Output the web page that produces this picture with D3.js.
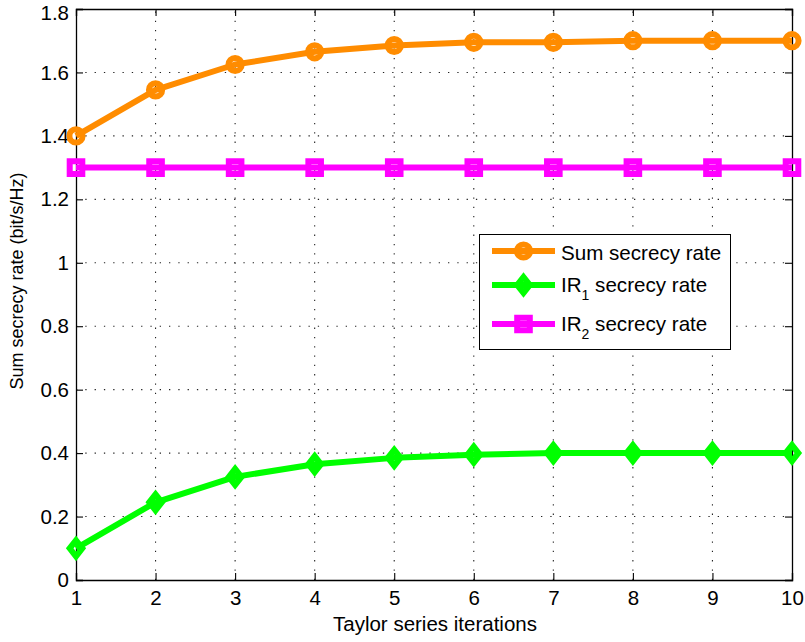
<!DOCTYPE html>
<html>
<head>
<meta charset="utf-8">
<script src="https://cdn.jsdelivr.net/npm/d3@7"></script>
<style>
  body { margin: 0; background: #fff; }
  text { font-family: "Liberation Sans", Arial, Helvetica, sans-serif; fill: #000; }
</style>
</head>
<body>
<svg id="chart" width="805" height="642"></svg>
<script>
// Secrecy rate versus number of Taylor series iterations
const iterations = [1, 2, 3, 4, 5, 6, 7, 8, 9, 10];
const sumRate = [1.40, 1.545, 1.625, 1.665, 1.685, 1.695, 1.695, 1.70, 1.70, 1.70];
const ir1Rate = [0.10, 0.245, 0.325, 0.365, 0.385, 0.395, 0.40, 0.40, 0.40, 0.40];
const ir2Rate = [1.30, 1.30, 1.30, 1.30, 1.30, 1.30, 1.30, 1.30, 1.30, 1.30];

const xTicks = [1, 2, 3, 4, 5, 6, 7, 8, 9, 10];
const yTicks = [0, 0.2, 0.4, 0.6, 0.8, 1, 1.2, 1.4, 1.6, 1.8];
const yTickLabels = ["0", "0.2", "0.4", "0.6", "0.8", "1", "1.2", "1.4", "1.6", "1.8"];

const seriesNames = ["Sum secrecy rate", "IR1 secrecy rate", "IR2 secrecy rate"];
const seriesValues = [sumRate, ir1Rate, ir2Rate];
const seriesColors = ["#FF8C00", "#00FF00", "#FF00FF"];
const seriesMarkers = ["circle", "diamond", "square"];

const svg = d3.select("#chart");
const plotL = 76, plotR = 792, plotT = 9, plotB = 580;

const x = d3.scaleLinear().domain([1, 10]).range([plotL, plotR]);
const y = d3.scaleLinear().domain([0, 1.8]).range([plotB, plotT]);

// dotted grid
const grid = svg.append("g")
  .attr("stroke", "#222").attr("stroke-width", 1.1)
  .attr("stroke-dasharray", "1.3,8");
grid.selectAll("line.gx").data(xTicks.slice(1, -1)).join("line")
  .attr("x1", d => x(d)).attr("x2", d => x(d))
  .attr("y1", plotB).attr("y2", plotT);
grid.selectAll("line.gy").data(yTicks.slice(1, -1)).join("line")
  .attr("y1", d => y(d)).attr("y2", d => y(d))
  .attr("x1", plotL).attr("x2", plotR);

// axes with inward ticks on all four sides
const tickLen = 7;
const axes = svg.append("g");
const fontTick = "20.5px";

axes.append("g").attr("transform", `translate(0,${plotB})`)
  .call(d3.axisBottom(x).tickValues(xTicks).tickSize(-tickLen).tickPadding(10)
    .tickFormat(d3.format("d")))
  .call(g => g.selectAll("text").attr("font-size", fontTick).attr("dy", "0.72em"));
axes.append("g").attr("transform", `translate(0,${plotT})`)
  .call(d3.axisTop(x).tickValues(xTicks).tickSize(-tickLen).tickFormat(""));
axes.append("g").attr("transform", `translate(${plotL},0)`)
  .call(d3.axisLeft(y).tickValues(yTicks).tickSize(-tickLen).tickPadding(7)
    .tickFormat((d, i) => yTickLabels[i]))
  .call(g => g.selectAll("text").attr("font-size", fontTick)
    // keep the topmost label inside the page
    .attr("dy", d => d === 1.8 ? "0.5em" : "0.32em"));
axes.append("g").attr("transform", `translate(${plotR},0)`)
  .call(d3.axisRight(y).tickValues(yTicks).tickSize(-tickLen).tickFormat(""));

axes.selectAll(".domain").attr("stroke", "#000").attr("stroke-width", 1.3);
axes.selectAll(".tick line").attr("stroke", "#000").attr("stroke-width", 1.1);
axes.selectAll("text").style("font-family", "'Liberation Sans', Arial, sans-serif").attr("fill", "#000");

// axis titles
svg.append("text")
  .attr("x", (plotL + plotR) / 2 + 1).attr("y", 631)
  .attr("text-anchor", "middle").attr("font-size", "20.5px")
  .text("Taylor series iterations");
svg.append("text")
  .attr("transform", `translate(23,${281}) rotate(-90)`)
  .attr("text-anchor", "middle").attr("font-size", "18px")
  .text("Sum secrecy rate (bit/s/Hz)");

// marker shapes
function markerPath(type) {
  if (type === "diamond") return "M0,-8L6.3,0L0,8L-6.3,0Z";
  return "M-6.3,-6.3H6.3V6.3H-6.3Z";
}
function drawMarker(g, type, color, cx, cy) {
  if (type === "circle") {
    g.append("circle").attr("cx", cx).attr("cy", cy).attr("r", 6.6)
      .attr("fill", "none").attr("stroke", color).attr("stroke-width", 6);
  } else {
    g.append("path").attr("d", markerPath(type))
      .attr("transform", `translate(${cx},${cy})`)
      .attr("fill", "none").attr("stroke", color).attr("stroke-width", 6)
      .attr("stroke-linejoin", "miter");
  }
}

const line = d3.line().x((d, i) => x(iterations[i])).y(d => y(d));

seriesValues.forEach((vals, s) => {
  const g = svg.append("g");
  g.append("path").datum(vals).attr("d", line)
    .attr("fill", "none").attr("stroke", seriesColors[s]).attr("stroke-width", 6)
    .attr("stroke-linejoin", "round");
  vals.forEach((v, i) => drawMarker(g, seriesMarkers[s], seriesColors[s], x(iterations[i]), y(v)));
});

// legend
const legend = svg.append("g");
legend.append("rect").attr("x", 479.5).attr("y", 234.5).attr("width", 251).attr("height", 115)
  .attr("fill", "#fff").attr("stroke", "#000").attr("stroke-width", 1);
const rowY = [251, 285, 324];
seriesNames.forEach((name, s) => {
  const ly = rowY[s];
  legend.append("line").attr("x1", 492).attr("x2", 555).attr("y1", ly).attr("y2", ly)
    .attr("stroke", seriesColors[s]).attr("stroke-width", 6);
  drawMarker(legend, seriesMarkers[s], seriesColors[s], 523.5, ly);
  const t = legend.append("text").attr("x", 561).attr("y", ly + (s === 0 ? 9 : 7))
    .attr("font-size", "20.6px");
  const m = name.match(/^IR(\d)(.*)$/);
  if (m) {
    t.append("tspan").text("IR");
    t.append("tspan").attr("dy", 8).attr("font-size", "14px").text(m[1]);
    t.append("tspan").attr("dy", -8).text(m[2]);
  } else {
    t.text(name);
  }
});
</script>
</body>
</html>
